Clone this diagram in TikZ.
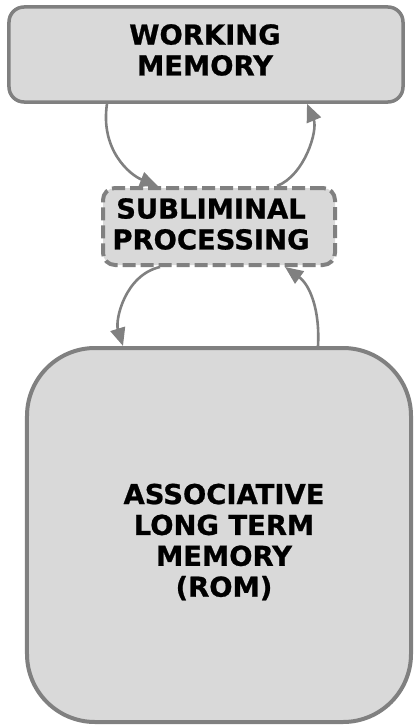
\documentclass[tikz,border=0pt]{standalone}
\usepackage{fontspec}
\setmainfont{DejaVu Sans}[BoldFeatures={FakeBold=0.8}]
\usetikzlibrary{arrows.meta,calc}
\definecolor{boxfill}{HTML}{D9D9D9}
\definecolor{boxline}{HTML}{808080}
\tikzset{
  box/.style={draw=boxline, fill=boxfill, line width=3.5bp, inner sep=0pt},
  lbl/.style={font=\fontsize{27.5}{31}\selectfont\bfseries, align=center, inner sep=0pt, text=black},
  arr/.style={draw=boxline, line width=2.6bp, -{Triangle[length=18bp,width=15bp]}},
}
\begin{document}
\begin{tikzpicture}[x=1bp,y=-1bp]
\useasboundingbox (0,0) rectangle (413,727);
% boxes
\node[box, rounded corners=15bp, minimum width=394bp, minimum height=95bp] (wm) at (206,54.5) {};
\node[box, rounded corners=12bp, line width=4bp, dash pattern=on 13bp off 5bp, minimum width=232bp, minimum height=77bp] (sub) at (219,226.5) {};
\node[box, rounded corners=68bp, line width=4bp, minimum width=384bp, minimum height=374bp] (ltm) at (219,535) {};
% labels
\node[lbl] (wmt) at (205,50) {WORKING\\MEMORY};
\node[lbl] (subt) at (211,224) {SUBLIMINAL\\PROCESSING};
\node[lbl] (ltmt) at (224,542) {ASSOCIATIVE\\LONG TERM\\MEMORY\\(ROM)};
% arrows
\draw[arr] ([xshift=-99bp]wm.south) .. controls (100,150) and (130,175) .. ([xshift=-61bp]sub.north);
\draw[arr] ([xshift=58bp]sub.north) .. controls (305,175) and (318,130) .. ([xshift=101bp]wm.south);
\draw[arr] ([xshift=-59bp]sub.south) .. controls (125,275) and (115,320) .. ([xshift=-96bp]ltm.north);
\draw[arr] ([xshift=99bp]ltm.north) .. controls (320,310) and (310,285) .. ([xshift=66bp]sub.south);
\end{tikzpicture}
\end{document}
